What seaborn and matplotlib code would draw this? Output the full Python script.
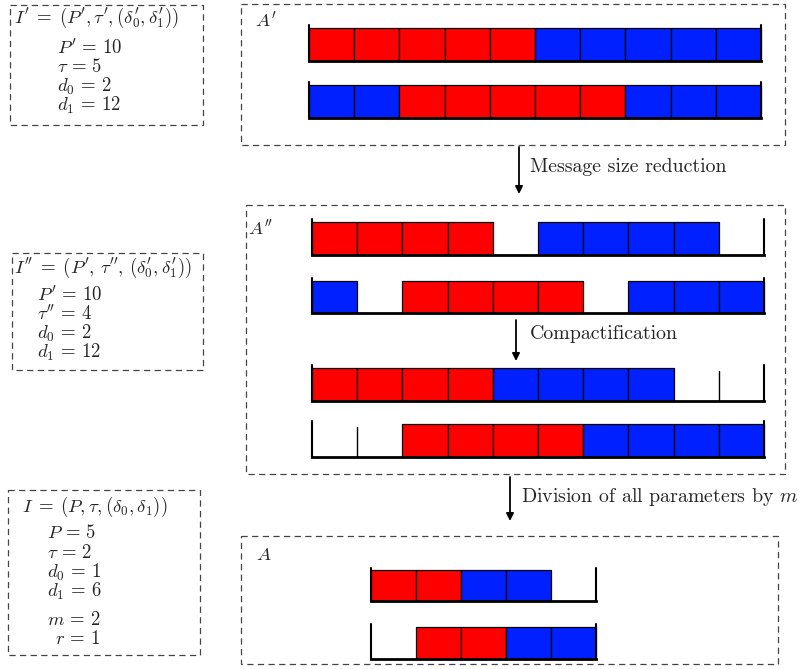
import matplotlib
matplotlib.use("Agg")
import matplotlib.pyplot as plt
from matplotlib.patches import Rectangle
import seaborn as sns

sns.set_theme(style="white")
plt.rcParams['font.family'] = ['cmr10', 'DejaVu Serif']
plt.rcParams['mathtext.fontset'] = 'cm'
plt.rcParams['axes.unicode_minus'] = False

W, H = 799, 669
COLORS = {'R': '#ff0000', 'B': '#0020ff'}

# one string per row of slots: R = red message, B = blue message, . = idle slot
rows_a_prime = ["RRRRRBBBBB", "BBRRRRRBBB"]
rows_a_second = ["RRRR.BBBB.", "B.RRRR.BBB"]
rows_a_compact = ["RRRRBBBB..", "..RRRRBBBB"]
rows_a = ["RRBB.", ".RRBB"]

title_i_prime = r"$I^{\prime}\;=\;(P^{\prime},\tau^{\prime},(\delta^{\prime}_{0},\delta^{\prime}_{1}))$"
params_i_prime = [r"$P^{\prime}\,=\,10$", r"$\tau\,=\,5$", r"$d_0\,=\,2$", r"$d_1\,=\,12$"]
title_i_second = r"$I^{\prime\prime}\;=\;(P^{\prime},\,\tau^{\prime\prime},\,(\delta^{\prime}_{0},\delta^{\prime}_{1}))$"
params_i_second = [r"$P^{\prime}\,=\,10$", r"$\tau^{\prime\prime}\,=\,4$", r"$d_0\,=\,2$", r"$d_1\,=\,12$"]
title_i = r"$I\;=\;(P,\tau,(\delta_0,\delta_1))$"
params_i = [r"$P\,=\,5$", r"$\tau\,=\,2$", r"$d_0\,=\,1$", r"$d_1\,=\,6$", r"$m\,=\,2$", r"$r\,=\,1$"]

steps = ["Message size reduction", "Compactification", r"Division of all parameters by $m$"]

fig = plt.figure(figsize=(W / 100, H / 100), dpi=100)
base = fig.add_axes([0, 0, 1, 1])
base.set_xlim(0, W)
base.set_ylim(H, 0)
base.axis('off')


def px(x0, y0, x1, y1):
    return [x0 / W, 1 - y1 / H, (x1 - x0) / W, (y1 - y0) / H]


def dashed_box(x0, y0, x1, y1):
    base.add_patch(Rectangle((x0, y0), x1 - x0, y1 - y0, fill=False, ec='#444444',
                             lw=0.9, linestyle=(0, (5, 3.5))))


def draw_row(x0, y0, x1, y1, pattern):
    ax = fig.add_axes(px(x0, y0, x1, y1))
    n = len(pattern)
    filled = [i for i, c in enumerate(pattern) if c != '.']
    ax.bar(filled, [1] * len(filled), width=1, align='edge',
           color=[COLORS[pattern[i]] for i in filled], edgecolor='black', linewidth=0.9,
           clip_on=False)
    for i in range(1, n):
        if pattern[i - 1] == '.' and pattern[i] == '.':
            ax.plot([i, i], [0, 0.9], color='black', lw=1, clip_on=False)
    ax.plot([0, n], [0, 0], color='black', lw=2, solid_capstyle='projecting', clip_on=False)
    ax.plot([0, 0], [0, 1.08], color='black', lw=1.5, clip_on=False)
    ax.plot([n, n], [0, 1.08], color='black', lw=1.5, clip_on=False)
    ax.set_xlim(0, n)
    ax.set_ylim(0, 1)
    ax.axis('off')


def arrow(x, y0, y1):
    base.annotate('', xy=(x, y1), xytext=(x, y0),
                  arrowprops=dict(arrowstyle='-|>', color='black', lw=1.3, mutation_scale=11,
                                  shrinkA=0, shrinkB=0))


# A' panel
dashed_box(241, 4, 785, 145)
base.text(255, 21, r"$A^{\prime}$", fontsize=13.5, va='center')
draw_row(309, 28, 761, 61, rows_a_prime[0])
draw_row(309, 85, 761, 118, rows_a_prime[1])

arrow(519, 147, 194)
base.text(530, 167, steps[0], fontsize=14.3, va='center')

# A'' panel
dashed_box(246, 205, 785, 474)
base.text(248, 229, r"$A^{\prime\prime}$", fontsize=13.5, va='center')
draw_row(312, 222, 764, 255, rows_a_second[0])
draw_row(312, 281, 764, 313, rows_a_second[1])
arrow(516, 320, 361)
base.text(530, 334, steps[1], fontsize=14.3, va='center')
draw_row(312, 368, 764, 401, rows_a_compact[0])
draw_row(312, 424, 764, 457, rows_a_compact[1])

arrow(510, 477, 521)
base.text(521, 497, steps[2], fontsize=14.3, va='center')

# A panel
dashed_box(241, 536, 778, 664)
base.text(256, 555, r"$A$", fontsize=13.5, va='center')
draw_row(371, 570, 596, 601, rows_a[0])
draw_row(371, 627, 596, 659, rows_a[1])

# parameter boxes
dashed_box(10, 5, 203, 125)
base.text(14, 18, title_i_prime, fontsize=13.5, va='center')
for k, s in enumerate(params_i_prime):
    base.text(57, 48 + k * 19.3, s, fontsize=13.5, va='center')

dashed_box(12, 253, 203, 370)
base.text(14, 268, title_i_second, fontsize=13.5, va='center')
for k, s in enumerate(params_i_second):
    base.text(37, 295 + k * 19.3, s, fontsize=13.5, va='center')

dashed_box(8, 490, 200, 655)
base.text(22, 507, title_i, fontsize=13.5, va='center')
for k, s in enumerate(params_i[:4]):
    base.text(47, 533 + k * 19.5, s, fontsize=13.5, va='center')
base.text(47, 620, params_i[4], fontsize=13.5, va='center')
base.text(55, 639, params_i[5], fontsize=13.5, va='center')

fig.savefig("out.png", dpi=100)
